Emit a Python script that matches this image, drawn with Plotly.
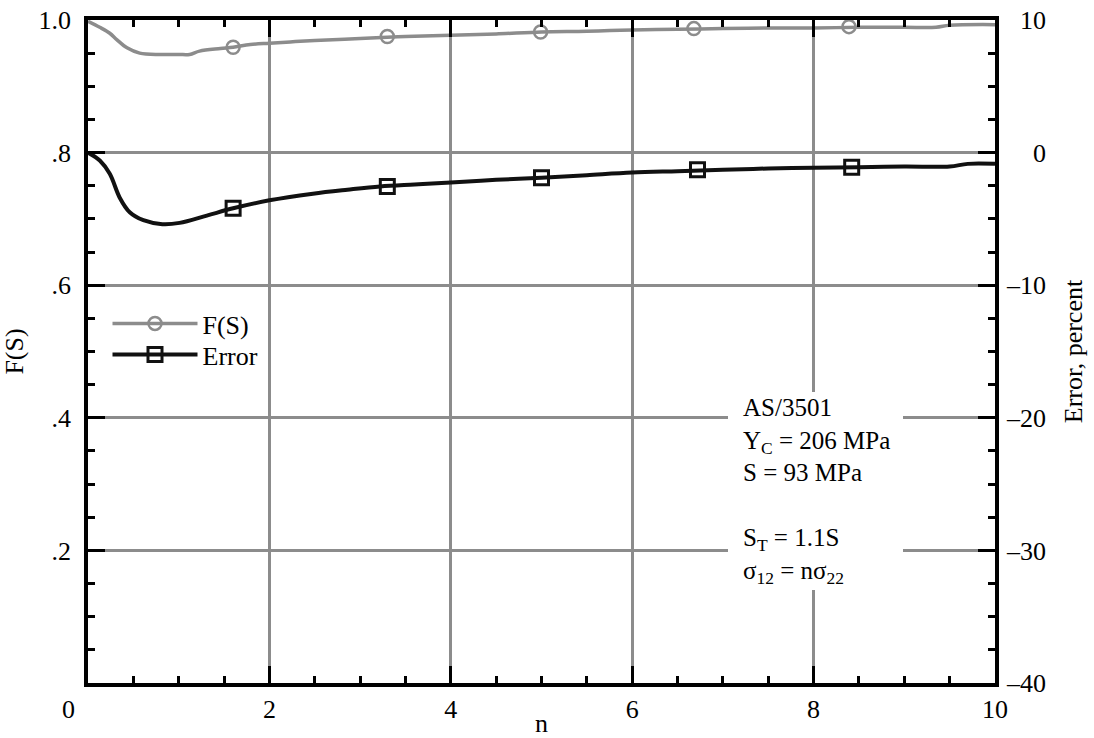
import plotly.graph_objects as go

# ---- data ----
n_fs = [0, 0.13, 0.24, 0.32, 0.43, 0.57, 0.8, 1.0, 1.12, 1.23, 1.46, 1.6, 1.79, 2.0, 2.23, 2.5, 3.0, 3.5, 4.0,
        4.5, 5.0, 5.5, 6.0, 6.5, 7.0, 7.5, 8.0, 8.5, 9.0, 9.35, 9.5, 10]
fs_vals = [0.998, 0.989, 0.98, 0.97, 0.958, 0.95, 0.948, 0.948, 0.948, 0.953, 0.957, 0.959, 0.963, 0.965, 0.967,
           0.969, 0.972, 0.975, 0.977, 0.979, 0.982, 0.983, 0.985, 0.986, 0.987, 0.988, 0.988, 0.989, 0.989,
           0.989, 0.992, 0.993]

n_err = [0, 0.13, 0.24, 0.35, 0.46, 0.61, 0.82, 1.01, 1.31, 1.6, 2.0, 2.48, 2.86, 3.22, 3.6, 4.0, 4.5, 5.0,
         5.5, 6.0, 6.5, 7.0, 7.5, 8.0, 8.5, 9.0, 9.5, 9.7, 10]
err_vals = [0, -0.6, -1.6, -3.4, -4.5, -5.1, -5.4, -5.3, -4.75, -4.2, -3.6, -3.1, -2.8, -2.55, -2.4, -2.25,
            -2.05, -1.9, -1.7, -1.5, -1.4, -1.3, -1.2, -1.15, -1.1, -1.05, -1.05, -0.85, -0.85]

fs_marker_n = [1.6, 3.3, 4.99, 6.68, 8.39]
fs_marker_vals = [0.959, 0.975, 0.982, 0.987, 0.990]
err_marker_n = [1.6, 3.3, 5.0, 6.72, 8.42]
err_marker_vals = [-4.2, -2.55, -1.9, -1.3, -1.1]

x_tickvals = [0, 2, 4, 6, 8, 10]
x_ticktext = ["0\u2007\u2007\u2007", "2", "4", "6", "8", "10"]
y_tickvals = [0.2, 0.4, 0.6, 0.8, 1.0]
y_ticktext = [".2", ".4", ".6", ".8", "1.0"]
y2_tickvals = [-40, -30, -20, -10, 0, 10]
y2_ticktext = ["\u201340", "\u201330", "\u201320", "\u201310", "\u2007\u20070", "\u200710"]

note_lines = ["AS/3501", "Y<sub>C</sub> = 206 MPa", "S = 93 MPa", "",
              "S<sub>T</sub> = 1.1S", "\u03c3<sub>12</sub> = n\u03c3<sub>22</sub>"]

FONT = "Liberation Serif, Times New Roman, serif"
GRAY = "#8c8c8c"
BLACK = "#111111"
FS = 26

fig = go.Figure()
fig.add_trace(go.Scatter(x=n_fs, y=fs_vals, mode="lines", line=dict(color=GRAY, width=3.5, shape="spline"),
                         showlegend=False, hoverinfo="skip"))
fig.add_trace(go.Scatter(x=fs_marker_n, y=fs_marker_vals, mode="markers",
                         marker=dict(symbol="circle-open", size=13, color=GRAY, line=dict(width=2.5, color=GRAY)),
                         showlegend=False))
fig.add_trace(go.Scatter(x=n_err, y=err_vals, yaxis="y2", mode="lines",
                         line=dict(color=BLACK, width=4, shape="spline"), showlegend=False, hoverinfo="skip"))
fig.add_trace(go.Scatter(x=err_marker_n, y=err_marker_vals, yaxis="y2", mode="markers",
                         marker=dict(symbol="square-open", size=14, color=BLACK, line=dict(width=3, color=BLACK)),
                         showlegend=False))
# legend entries (one legend each so rows can be placed exactly)
fig.add_trace(go.Scatter(x=[None], y=[None], mode="lines+markers", name="F(S)", legend="legend",
                         line=dict(color=GRAY, width=3.5),
                         marker=dict(symbol="circle-open", size=13, color=GRAY, line=dict(width=2.5, color=GRAY))))
fig.add_trace(go.Scatter(x=[None], y=[None], mode="lines+markers", name="Error", yaxis="y2", legend="legend2",
                         line=dict(color=BLACK, width=4),
                         marker=dict(symbol="square-open", size=14, color=BLACK, line=dict(width=3, color=BLACK))))

fig.add_shape(type="rect", xref="paper", yref="paper", x0=(728 - 88) / 907, x1=(903 - 88) / 907,
              y0=(683 - 590) / 663, y1=(683 - 392) / 663, fillcolor="white", line=dict(width=0), layer="above")
fig.add_annotation(xref="paper", yref="paper", x=(741 - 88) / 907, y=(683 - 392) / 663,
                   xanchor="left", yanchor="top", align="left", showarrow=False,
                   text="<br>".join(note_lines), font=dict(family=FONT, size=25, color="black"))

axis_common = dict(showline=True, linecolor="black", linewidth=3.5, ticks="inside", ticklen=17, tickwidth=3,
                   tickcolor="black", tickfont=dict(family=FONT, size=FS, color="black"), zeroline=False,
                   automargin=False)

fig.update_layout(
    width=1094, height=738,
    margin=dict(l=88, r=99, t=20, b=55),
    paper_bgcolor="white", plot_bgcolor="white",
    font=dict(family=FONT, size=FS, color="black"),
    xaxis=dict(range=[0, 10], tickmode="array", tickvals=x_tickvals, ticktext=x_ticktext, mirror="ticks",
               showgrid=True, gridcolor=GRAY, gridwidth=3,
               minor=dict(dtick=0.5, ticklen=7, tickwidth=3, tickcolor="black", ticks="inside", showgrid=False),
               title=dict(text="n", font=dict(family=FONT, size=FS), standoff=0),
               **axis_common),
    yaxis=dict(range=[0, 1], tickmode="array", tickvals=y_tickvals, ticktext=y_ticktext,
               showgrid=True, gridcolor=GRAY, gridwidth=3, ticklabelstandoff=8,
               minor=dict(dtick=0.05, ticklen=7, tickwidth=3, tickcolor="black", ticks="inside", showgrid=False),
               title=dict(text="F(S)", font=dict(family=FONT, size=FS), standoff=14),
               **axis_common),
    yaxis2=dict(range=[-40, 10], overlaying="y", side="right", tickmode="array", tickvals=y2_tickvals,
                ticktext=y2_ticktext, showgrid=False, ticklabelstandoff=3,
                minor=dict(dtick=2.5, ticklen=7, tickwidth=3, tickcolor="black", ticks="inside", showgrid=False),
                title=dict(text="Error, percent", font=dict(family=FONT, size=FS), standoff=20),
                **axis_common),
    legend=dict(x=0.0215, y=(683 - 300) / 663, xanchor="left", yanchor="top", bgcolor="rgba(0,0,0,0)",
                borderwidth=0, itemwidth=85, font=dict(family=FONT, size=FS)),
    legend2=dict(x=0.0215, y=(683 - 331) / 663, xanchor="left", yanchor="top", bgcolor="rgba(0,0,0,0)",
                 borderwidth=0, itemwidth=85, font=dict(family=FONT, size=FS)),
    showlegend=True,
)

fig.write_html("out.html")
